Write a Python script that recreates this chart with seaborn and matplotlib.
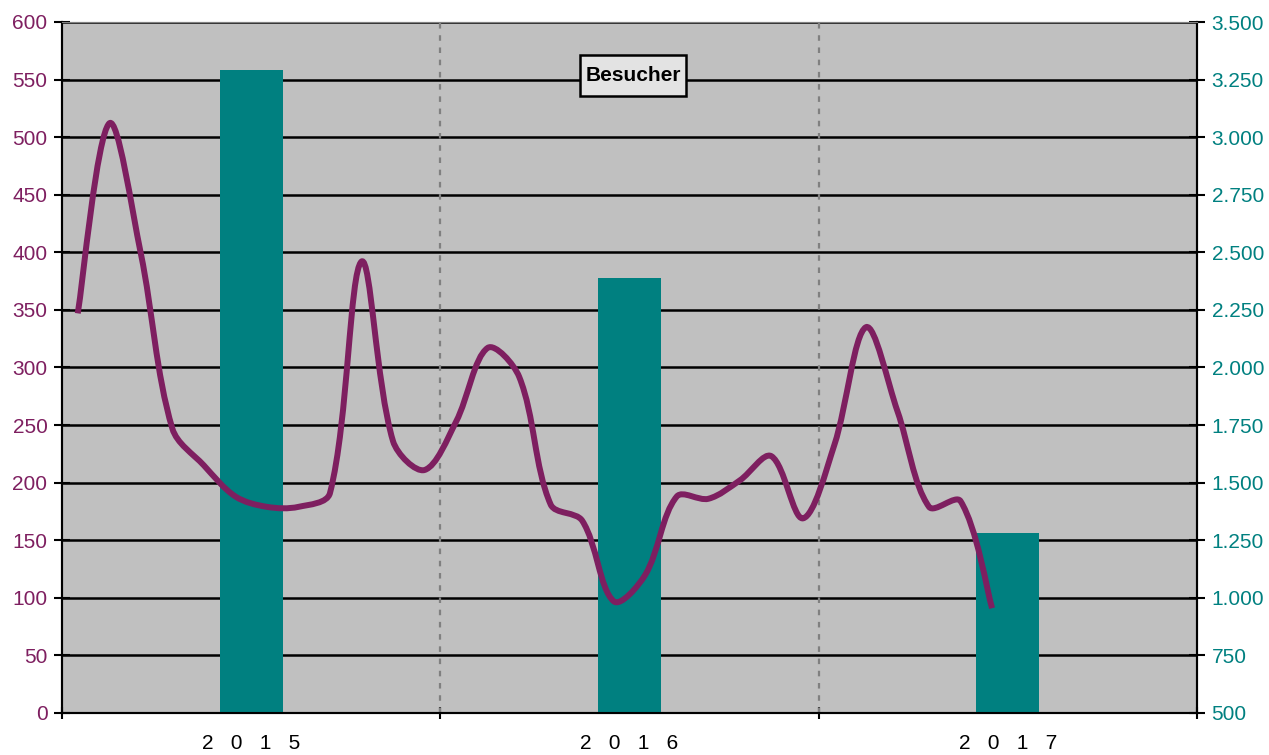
import numpy as np
import pandas as pd
import matplotlib.pyplot as plt
from matplotlib.path import Path
from matplotlib.patches import PathPatch, Rectangle
from matplotlib.ticker import FuncFormatter
import seaborn as sns

# Jahre und Jahressummen (rechte Achse)
jahre = ["2   0   1   5", "2   0   1   6", "2   0   1   7"]
jahres_besucher = [3290, 2390, 1280]

# Monatswerte (linke Achse), Jan 2015 bis Jun 2017
monats_besucher = [347, 512, 399, 247, 215, 188, 179, 179, 191, 392, 236, 211,
                   253, 317, 292, 181, 167, 97, 120, 188, 186, 202, 223, 169,
                   233, 335, 262, 179, 184, 91]

FARBE_LINIE = "#7E1F60"
FARBE_BALKEN = "#008080"


def glatte_kurve(x, y, sx, sy):
    """Bezier-Pfad wie die geglaettete Linie in Excel.
    Tangenten werden nach den Sehnenlaengen (in Pixeln, sx/sy) gewichtet."""
    pts = np.column_stack([x, y]).astype(float)
    n = len(pts)
    skal = np.array([sx, sy])

    def laenge(a, b):
        return np.hypot(*((b - a) * skal))

    verts = [pts[0]]
    codes = [Path.MOVETO]
    for i in range(n - 1):
        p0 = pts[i - 1] if i > 0 else pts[i]
        p1 = pts[i]
        p2 = pts[i + 1]
        p3 = pts[i + 2] if i + 2 < n else pts[i + 1]
        d01, d12, d23 = laenge(p0, p1), laenge(p1, p2), laenge(p2, p3)
        f1 = d12 / (d01 + d12) / 3 if d01 > 0 else 1 / 6
        f2 = d12 / (d12 + d23) / 3 if d23 > 0 else 1 / 6
        verts += [p1 + (p2 - p0) * f1, p2 - (p3 - p1) * f2, p2]
        codes += [Path.CURVE4] * 3
    return Path(verts, codes)


def main():
    sns.set_style("ticks")
    plt.rcParams["font.family"] = ["Liberation Sans", "DejaVu Sans"]

    fig = plt.figure(figsize=(12.69, 7.55), dpi=100)
    ax = fig.add_axes([62 / 1269, 1 - 713 / 755, 1135 / 1269, 691 / 755])
    ax.set_facecolor("#C0C0C0")

    # Balken (Jahreswerte) auf der rechten Achse
    df_jahre = pd.DataFrame({"pos": [5.5, 17.5, 29.5], "wert": jahres_besucher})
    sns.barplot(data=df_jahre, x="pos", y="wert", native_scale=True,
                color=FARBE_BALKEN, saturation=1, width=2 / 12, ax=ax, zorder=3)
    for p in ax.patches:
        p.set_edgecolor("none")
    ax.set_ylim(500, 3500)
    ax.set_yticks(np.arange(500, 3501, 250))
    ax.yaxis.set_major_formatter(FuncFormatter(lambda v, _: f"{int(v):,}".replace(",", ".")))
    ax.set_axisbelow(True)
    ax.grid(axis="y", color="black", linewidth=1.8)
    ax.grid(axis="x", visible=False)
    for xv in [11.5, 23.5]:
        ax.axvline(xv, color="#808080", linewidth=1.6, linestyle=(0, (2.5, 3)), zorder=1)

    # Linie (Monatswerte) auf der linken Achse
    ax2 = ax.twinx()
    monate = np.arange(len(monats_besucher))
    pfad = glatte_kurve(monate, monats_besucher, sx=1135 / 36, sy=691 / 600)
    ax2.add_patch(PathPatch(pfad, fill=False, edgecolor=FARBE_LINIE, linewidth=4.3,
                            capstyle="butt", joinstyle="round", zorder=5))
    ax2.set_ylim(0, 600)
    ax2.set_yticks(np.arange(0, 601, 50))
    ax2.yaxis.tick_left()
    ax.yaxis.tick_right()

    ax.set_xlim(-0.5, 35.5)
    ax.set_xticks([-0.5, 11.5, 23.5, 35.5])
    ax.set_xticklabels([])
    ax.set_xticks([5.5, 17.5, 29.5], minor=True)
    ax.set_xticklabels(jahre, minor=True)
    ax.set_xlabel("")
    ax.set_ylabel("")
    ax2.set_ylabel("")

    ax.tick_params(axis="x", which="major", direction="inout", length=9, width=1.5, color="black")
    ax.tick_params(axis="x", which="minor", length=0, pad=15, labelsize=15, labelcolor="black")
    ax.tick_params(axis="y", direction="inout", length=11, width=1.5, color="black",
                   labelsize=15, labelcolor=FARBE_BALKEN, pad=5)
    ax2.tick_params(axis="y", direction="inout", length=11, width=1.5, color="black",
                    labelsize=15, labelcolor=FARBE_LINIE, pad=5)

    for a in (ax, ax2):
        a.spines["top"].set_color("#808080")
        for s in ("left", "right", "bottom"):
            a.spines[s].set_color("black")
            a.spines[s].set_linewidth(1.5)

    # Beschriftungskasten
    ax2.add_patch(Rectangle((0.4564, 0.8929), 0.0934, 0.0594, transform=ax2.transAxes,
                            facecolor="#E3E3E3", edgecolor="black", linewidth=1.8, zorder=6))
    ax2.text(0.503, 0.9226, "Besucher", transform=ax2.transAxes, ha="center", va="center",
             fontsize=15, fontweight="bold", color="black", zorder=7)

    fig.savefig("out.png", dpi=100)


if __name__ == "__main__":
    main()
